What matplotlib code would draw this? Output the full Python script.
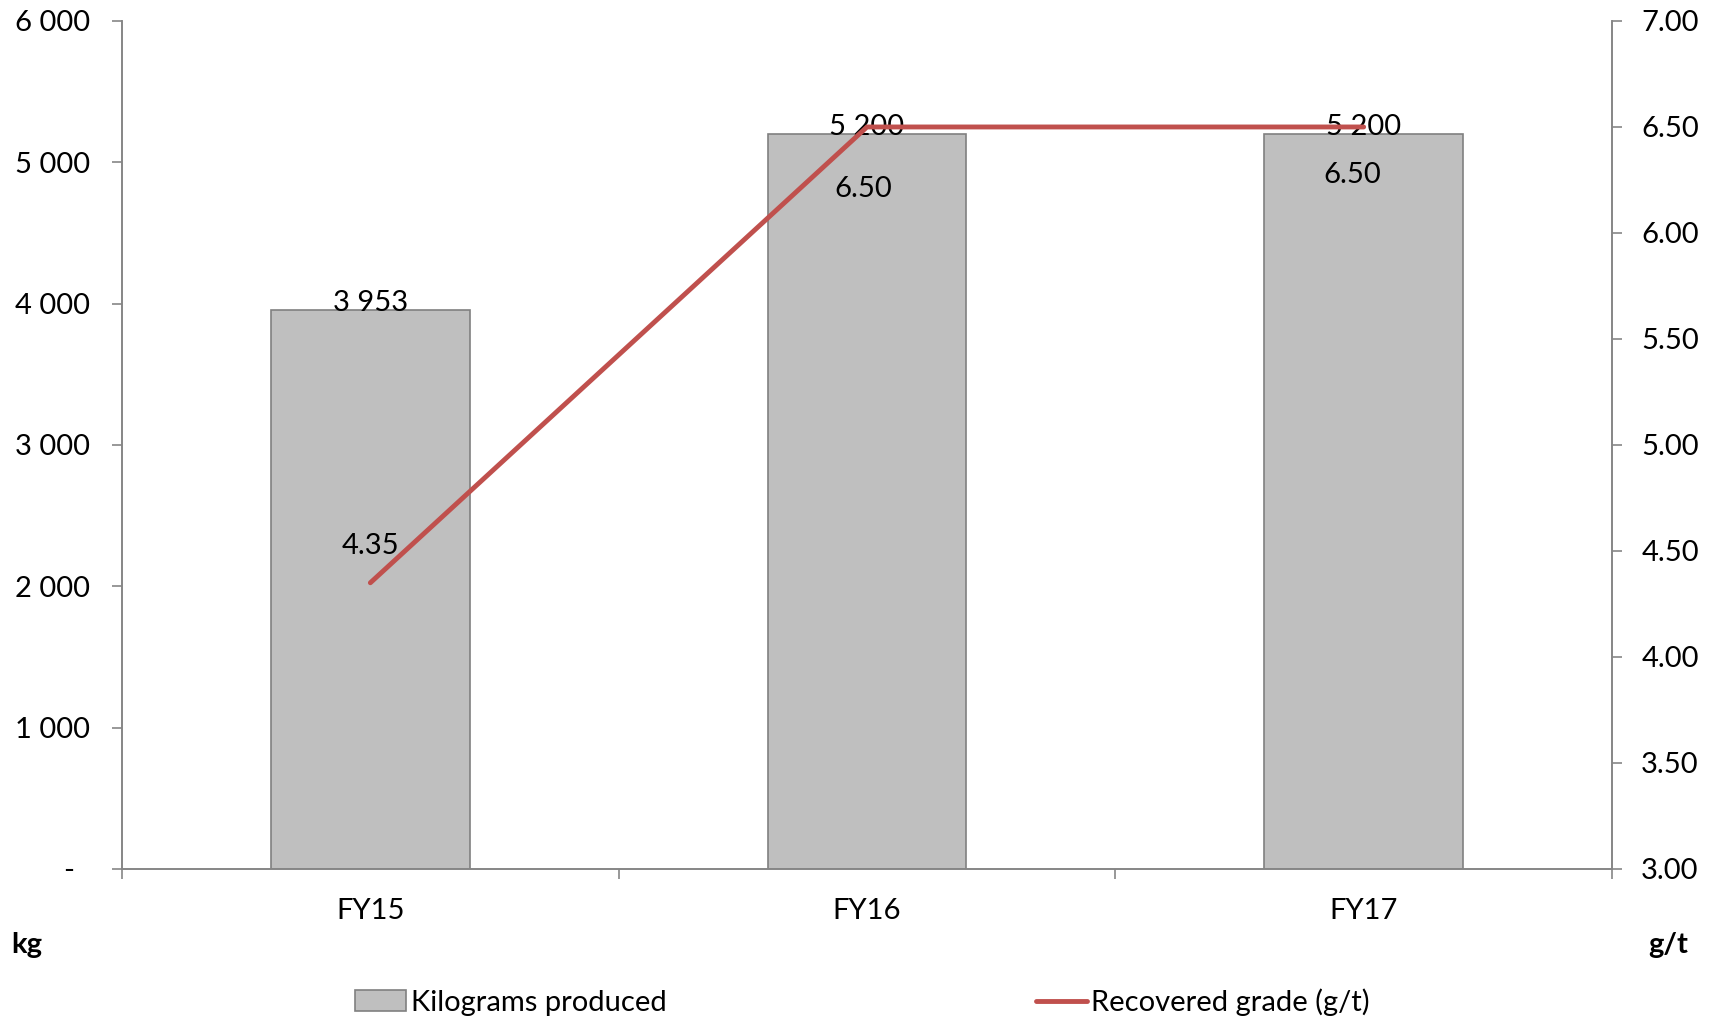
import numpy as np
import matplotlib.pyplot as plt
from matplotlib.ticker import FuncFormatter, FixedLocator

plt.rcParams['font.family'] = ['Lato', 'DejaVu Sans']

years = ['FY15', 'FY16', 'FY17']
kg_produced = [3953, 5200, 5200]
grade = [4.35, 6.50, 6.50]
left_ticks = [0, 1000, 2000, 3000, 4000, 5000, 6000]
right_ticks = [3.0, 3.5, 4.0, 4.5, 5.0, 5.5, 6.0, 6.5, 7.0]

grey = '#868686'
fs = 21

fig = plt.figure(figsize=(17.16, 10.18), dpi=100)
ax = fig.add_axes([0.0711, 0.1464, 0.9394 - 0.0711, 0.9794 - 0.1464])
x = np.arange(len(years))

bars = ax.bar(x, kg_produced, width=0.4, color='#BFBFBF', edgecolor='#808080',
              linewidth=1.2, label='Kilograms produced', zorder=2)
ax.set_xlim(-0.5, 2.5)
ax.set_ylim(0, 6000)
ax.set_yticks(left_ticks)


def kg_fmt(v, pos):
    if v == 0:
        return '-  '
    return '{:,.0f}'.format(v).replace(',', ' ')


ax.yaxis.set_major_formatter(FuncFormatter(kg_fmt))
ax.set_xticks(x)
ax.set_xticklabels(years)
ax.xaxis.set_minor_locator(FixedLocator([-0.5, 0.5, 1.5, 2.5]))
ax.tick_params(axis='x', which='major', length=0, pad=21, labelsize=fs)
ax.tick_params(axis='x', which='minor', length=7, color=grey, width=1.2, direction='out')
ax.tick_params(axis='y', length=7, color=grey, width=1.2, pad=16, labelsize=fs)
for s in ['left', 'bottom', 'right']:
    ax.spines[s].set_color(grey)
    ax.spines[s].set_linewidth(1.2)
ax.spines['top'].set_visible(False)

for xi, v in zip(x, kg_produced):
    ax.annotate('{:,.0f}'.format(v).replace(',', ' '), (xi, v), xytext=(0, 7),
                textcoords='offset pixels', ha='center', va='center', fontsize=fs, zorder=5)

ax2 = ax.twinx()
ax2.plot(x, grade, color='#C0504D', linewidth=3.5, solid_capstyle='round',
         label='Recovered grade (g/t)', zorder=3)
ax2.set_ylim(3.0, 7.0)
ax2.set_yticks(right_ticks)
ax2.yaxis.set_major_formatter(FuncFormatter(lambda v, p: '{:.2f}'.format(v)))
ax2.tick_params(axis='y', length=7, color=grey, width=1.2, pad=14, labelsize=fs)
for s in ['left', 'bottom', 'right']:
    ax2.spines[s].set_color(grey)
    ax2.spines[s].set_linewidth(1.2)
ax2.spines['top'].set_visible(False)

grade_offsets = [(0, 37), (-4, -62), (-11, -48)]
for xi, v, off in zip(x, grade, grade_offsets):
    ax2.annotate('{:.2f}'.format(v), (xi, v), xytext=off, textcoords='offset pixels',
                 ha='center', va='center', fontsize=fs)

fig.text(27 / 1716, 1 - 945 / 1018, 'kg', fontsize=fs, fontweight='bold', ha='center', va='center')
fig.text(1668 / 1716, 1 - 945 / 1018, 'g/t', fontsize=fs, fontweight='bold', ha='center', va='center')

h1, l1 = ax.get_legend_handles_labels()
h2, l2 = ax2.get_legend_handles_labels()
fig.legend(h1 + h2, l1 + l2, loc='center', bbox_to_anchor=(0.5026, 1 - 1002 / 1018), ncol=2,
           frameon=False, fontsize=fs, handlelength=1.75, handletextpad=0.15, columnspacing=12.65,
           borderaxespad=0)

fig.savefig('out.png', dpi=100)
